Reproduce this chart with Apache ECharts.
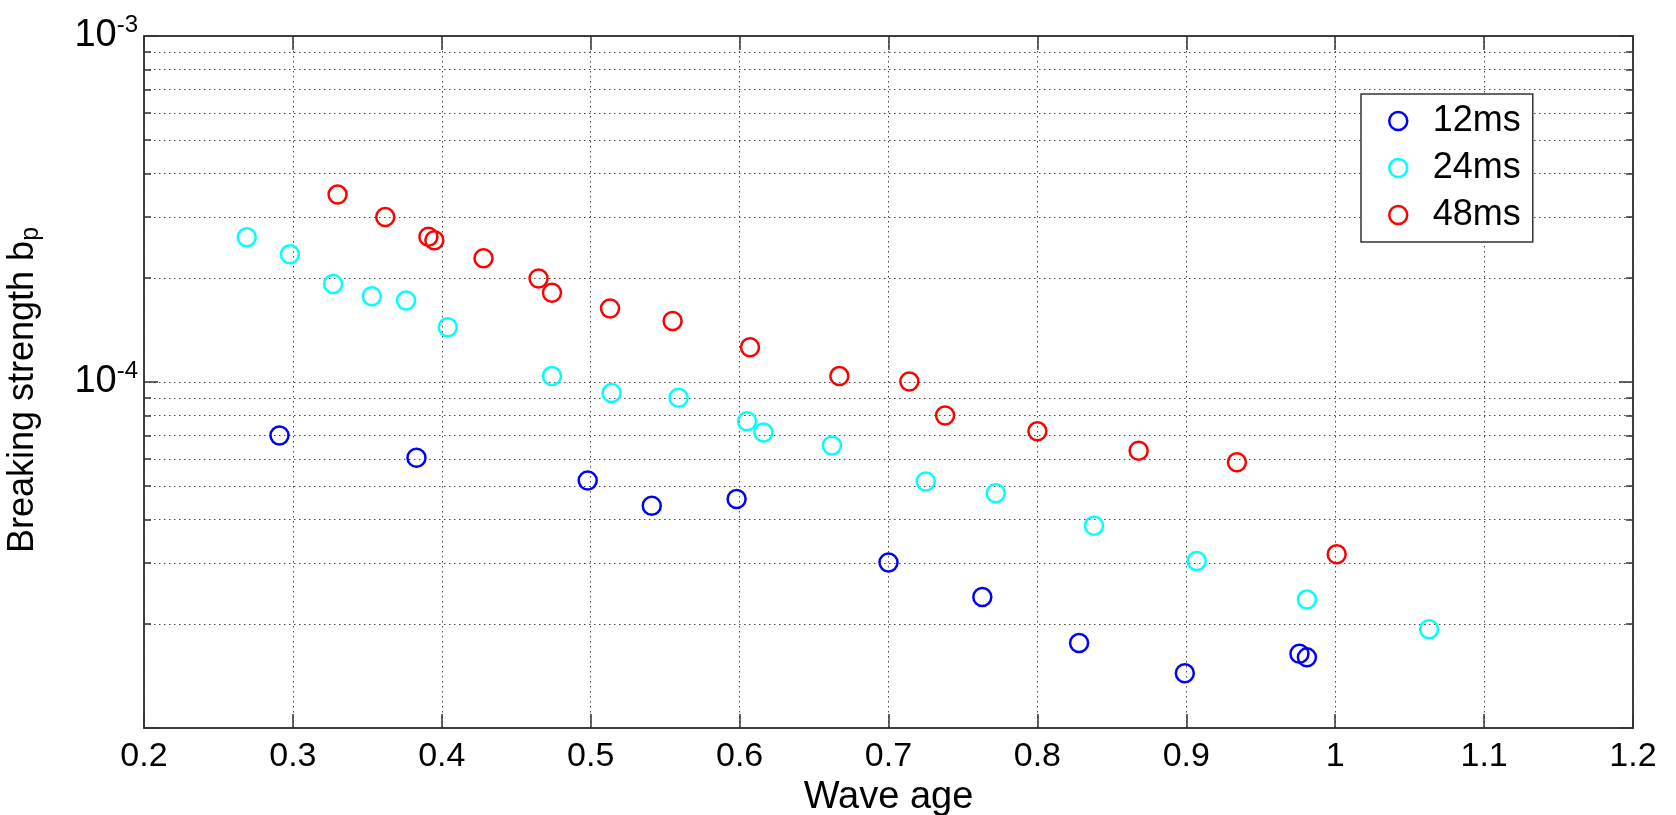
<!DOCTYPE html>
<html>
<head>
<meta charset="utf-8">
<script src="https://cdn.jsdelivr.net/npm/echarts@6/dist/echarts.min.js"></script>
<style>html,body{margin:0;padding:0;background:#fff}#c{width:1676px;height:815px}</style>
</head>
<body>
<div id="c"></div>
<script>
// ---- data ----
const seriesNames = ['12ms', '24ms', '48ms'];
const blueX = [0.291, 0.383, 0.498, 0.541, 0.598, 0.700, 0.763, 0.828, 0.899, 0.976, 0.981];
const blueY = [7.0e-5, 6.04e-5, 5.19e-5, 4.39e-5, 4.59e-5, 3.01e-5, 2.39e-5, 1.76e-5, 1.44e-5, 1.64e-5, 1.60e-5];
const cyanX = [0.269, 0.298, 0.327, 0.353, 0.376, 0.404, 0.474, 0.514, 0.559, 0.605, 0.616, 0.662, 0.725, 0.772, 0.838, 0.907, 0.981, 1.063];
const cyanY = [2.62e-4, 2.34e-4, 1.92e-4, 1.77e-4, 1.72e-4, 1.44e-4, 1.04e-4, 9.3e-5, 9.0e-5, 7.7e-5, 7.15e-5, 6.55e-5, 5.16e-5, 4.77e-5, 3.84e-5, 3.04e-5, 2.35e-5, 1.93e-5];
const redX = [0.330, 0.362, 0.391, 0.395, 0.428, 0.465, 0.474, 0.513, 0.555, 0.607, 0.667, 0.714, 0.738, 0.800, 0.868, 0.934, 1.001];
const redY = [3.48e-4, 3.0e-4, 2.63e-4, 2.57e-4, 2.28e-4, 1.99e-4, 1.81e-4, 1.63e-4, 1.50e-4, 1.26e-4, 1.04e-4, 1.003e-4, 8.0e-5, 7.2e-5, 6.33e-5, 5.86e-5, 3.18e-5];
const xMin = 0.2, xMax = 1.2, xStep = 0.1;
const yMin = 1e-5, yMax = 1e-3;
const xTitle = 'Wave age';
const yTitle = 'Breaking strength b{sub|p}';

// ---- chart ----
const FONT = '"Liberation Sans", Arial, Helvetica, sans-serif';
const colors = ['#0000ff', '#00ffff', '#ff0000'];
const pairs = (xs, ys) => xs.map((x, i) => [x, ys[i]]);
const dataSets = [pairs(blueX, blueY), pairs(cyanX, cyanY), pairs(redX, redY)];
const gridStyle = { color: '#444', width: 1, type: [1.5, 3.5] };
const axisLineStyle = { color: '#333', width: 1.5 };

function yLabel(v) {
  const e = Math.round(Math.log10(v));
  if (e === -5) return '';
  return '{b|10}{s|' + e + '}';
}

const series = seriesNames.map((name, i) => ({
  name: name,
  type: 'scatter',
  data: dataSets[i],
  symbol: 'circle',
  symbolSize: 18,
  itemStyle: { color: 'rgba(0,0,0,0)', borderColor: colors[i], borderWidth: 2.5, opacity: 1 },
  emphasis: { disabled: true },
  z: 3
}));

const chart = echarts.init(document.getElementById('c'), null, { renderer: 'canvas' });
chart.setOption({
  animation: false,
  backgroundColor: '#fff',
  textStyle: { fontFamily: FONT },
  grid: { left: 144, right: 43, top: 36, bottom: 87, show: true, borderColor: '#333', borderWidth: 1.5,
          containLabel: false, outerBoundsMode: 'none' },
  legend: {
    orient: 'vertical',
    left: 1361, top: 94,
    padding: [7, 12, 7, 27],
    itemWidth: 59, itemHeight: 18, itemGap: 7,
    backgroundColor: '#fff', borderColor: '#333', borderWidth: 1.5,
    textStyle: { fontSize: 36, lineHeight: 40, color: '#000', fontFamily: FONT },
    itemStyle: { borderWidth: 2.5 },
    selectedMode: false,
    data: seriesNames
  },
  xAxis: [{
    type: 'value', min: xMin, max: xMax, interval: xStep,
    name: xTitle, nameLocation: 'middle', nameGap: 46,
    nameTextStyle: { fontSize: 38, color: '#000', fontFamily: FONT },
    axisLine: { show: true, onZero: false, lineStyle: axisLineStyle },
    axisTick: { show: true, inside: true, length: 14, lineStyle: axisLineStyle },
    axisLabel: { fontSize: 34, color: '#000', margin: 12, fontFamily: FONT },
    splitLine: { show: true, lineStyle: gridStyle }
  }, {
    type: 'value', min: xMin, max: xMax, interval: xStep, position: 'top',
    axisLine: { show: true, onZero: false, lineStyle: axisLineStyle },
    axisTick: { show: true, inside: true, length: 14, lineStyle: axisLineStyle },
    axisLabel: { show: false },
    splitLine: { show: false }
  }],
  yAxis: [{
    type: 'log', logBase: 10, min: yMin, max: yMax,
    name: yTitle, nameLocation: 'middle', nameGap: 100,
    nameTextStyle: { fontSize: 36, color: '#000', fontFamily: FONT, padding: [0, 16, 0, 0],
      rich: { sub: { fontSize: 25, padding: [16, 0, 0, 0], color: '#000', fontFamily: FONT } } },
    axisLine: { show: true, onZero: false, lineStyle: axisLineStyle },
    axisTick: { show: true, inside: true, length: 14, lineStyle: axisLineStyle },
    minorTick: { show: true, splitNumber: 9, length: 7, lineStyle: axisLineStyle },
    minorSplitLine: { show: true, lineStyle: gridStyle },
    axisLabel: {
      formatter: yLabel, margin: 6,
      rich: {
        b: { fontSize: 38, color: '#000', fontFamily: FONT },
        s: { fontSize: 24, color: '#000', fontFamily: FONT, padding: [0, 0, 22, 0] }
      }
    },
    splitLine: { show: true, lineStyle: gridStyle }
  }, {
    type: 'log', logBase: 10, min: yMin, max: yMax, position: 'right',
    axisLine: { show: true, onZero: false, lineStyle: axisLineStyle },
    axisTick: { show: true, inside: true, length: 14, lineStyle: axisLineStyle },
    minorTick: { show: true, splitNumber: 9, length: 7, lineStyle: axisLineStyle },
    axisLabel: { show: false },
    splitLine: { show: false }
  }],
  series: series
});
</script>
</body>
</html>
